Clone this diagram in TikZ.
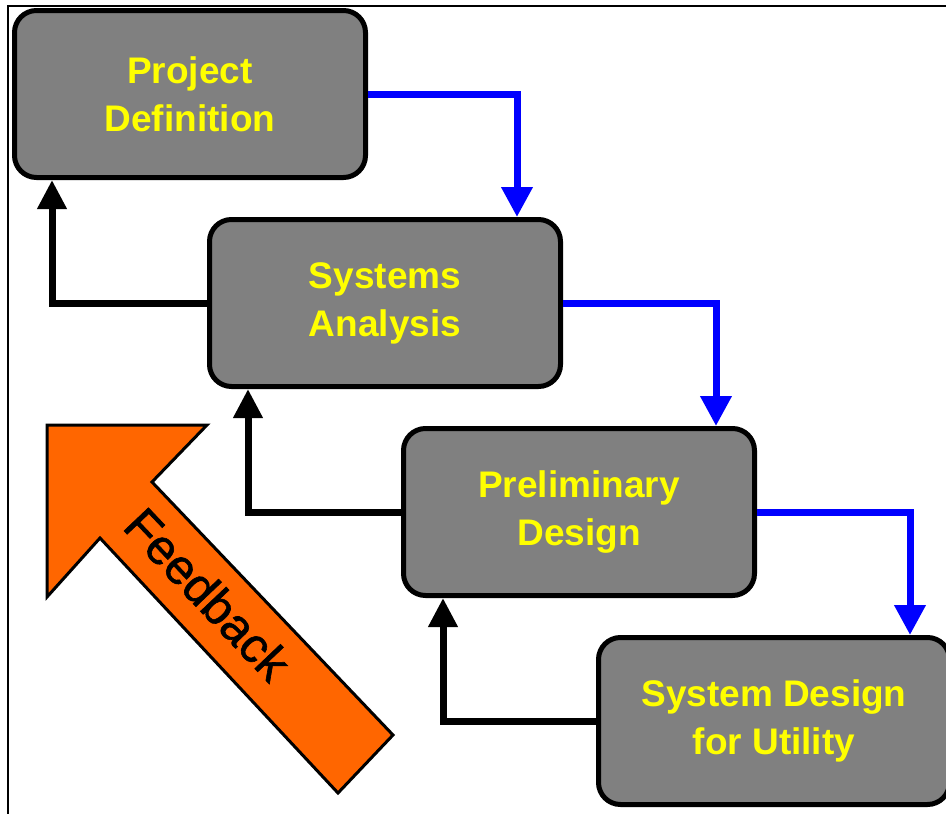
\documentclass[tikz,border=0pt]{standalone}
\usepackage{fontspec}
\setmainfont{Liberation Sans}
\newfontfamily\fbfont[FakeBold=1.2]{Liberation Sans}
\usetikzlibrary{arrows.meta}
\definecolor{boxgray}{HTML}{808080}
\definecolor{txtyellow}{HTML}{FFFF00}
\definecolor{flowblue}{HTML}{0000FF}
\definecolor{fborange}{HTML}{FF6600}
\begin{document}
\begin{tikzpicture}[x=1pt,y=-1pt,
  stage/.style={draw=black, line width=5pt, fill=boxgray, rounded corners=22pt,
    minimum width=351pt, minimum height=167pt, align=center, text=txtyellow,
    font=\fontsize{37}{48}\selectfont\bfseries, inner sep=0pt},
  flow/.style={draw=flowblue, line width=7pt, -{Triangle[width=30pt,length=30pt]}},
  back/.style={draw=black, line width=7pt, -{Triangle[width=28pt,length=29pt]}},
  fbarrow/.style={draw=black, line width=3pt, fill=fborange, line join=miter},
  fbtext/.style={rotate=-46.5, font=\fbfont\fontsize{49}{49}\selectfont, inner sep=0pt}
]
\useasboundingbox (0,0) rectangle (946,814);
% frame
\draw[line width=2pt] (7.5,814) -- (7.5,6) -- (946,6);
% boxes
\node[stage] (b1) at (190,94) {Project\\Definition};
\node[stage] (b2) at (385,303) {Systems\\Analysis};
\node[stage] (b3) at (579,512) {Preliminary\\Design};
\node[stage] (b4) at (774,721) {System Design\\for Utility};
% column coordinates
\coordinate (d1) at (517,0);
\coordinate (d2) at (716,0);
\coordinate (d3) at (910,0);
\coordinate (u1) at (52,0);
\coordinate (u2) at (248,0);
\coordinate (u3) at (443,0);
% forward flow
\draw[flow] (b1.east) -| (b2.north -| d1);
\draw[flow] (b2.east) -| (b3.north -| d2);
\draw[flow] (b3.east) -| (b4.north -| d3);
% feedback
\draw[back] (b2.west) -| (b1.south -| u1);
\draw[back] (b3.west) -| (b2.south -| u2);
\draw[back] (b4.west) -| (b3.south -| u3);
% big feedback arrow
\draw[fbarrow] (47,425) -- (207,425) -- (152,482) -- (393,735) -- (338,793) -- (100,538) -- (47,597) -- cycle;
\node[fbtext] (fb) at (208,594) {Feedback};
\end{tikzpicture}
\end{document}
